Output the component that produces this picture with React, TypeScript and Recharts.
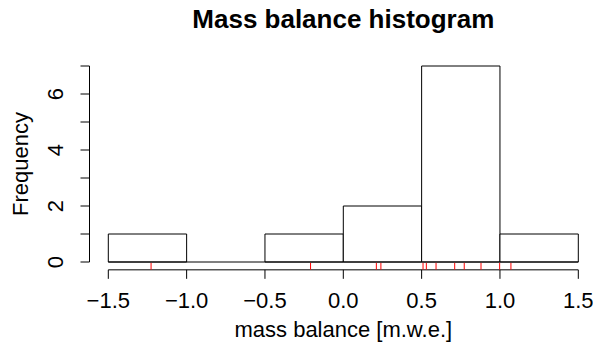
import React from 'react';
import { ComposedChart, XAxis, YAxis, ReferenceArea, ReferenceLine, Scatter } from 'recharts';

const binStarts = [-1.5, -1.0, -0.5, 0.0, 0.5, 1.0];
const binEnds = [-1.0, -0.5, 0.0, 0.5, 1.0, 1.5];
const binCounts = [1, 0, 1, 2, 7, 1];
const rugValues = [-1.227, -0.209, 0.211, 0.24, 0.509, 0.53, 0.592, 0.711, 0.772, 0.879, 0.998, 1.07];
const xTicks = [-1.5, -1.0, -0.5, 0.0, 0.5, 1.0, 1.5];
const yTicks = [0, 1, 2, 3, 4, 5, 6, 7];
const yTickLabels = ['0', '', '2', '', '4', '', '6', ''];
const titleText = 'Mass balance histogram';
const xLabelText = 'mass balance [m.w.e.]';
const yLabelText = 'Frequency';

const FONT = '"Liberation Sans", Arial, Helvetica, sans-serif';
const Y_MIN = -0.28;
const Y_MAX = 7.28;
const X_AXIS_LEFT = -1.62;

const rugData = rugValues.map((v) => ({ x: v, y: Y_MIN }));

const fmtX = (v: number) => (v < 0 ? '\u2212' : '') + Math.abs(v).toFixed(1);

const XTick = (props: any) => {
  const { x, y, payload } = props;
  return (
    <text x={x} y={y + 27} textAnchor="middle" fontSize={22} fontFamily={FONT} fill="#000">
      {fmtX(payload.value)}
    </text>
  );
};

const YTick = (props: any) => {
  const { x, y, payload } = props;
  const idx = yTicks.indexOf(payload.value);
  const label = idx >= 0 ? yTickLabels[idx] : '';
  if (!label) return <g />;
  return (
    <text
      x={x}
      y={y}
      transform={`rotate(-90, ${x}, ${y})`}
      textAnchor="middle"
      fontSize={22}
      fontFamily={FONT}
      fill="#000"
    >
      {label}
    </text>
  );
};

const RugShape = (props: any) => {
  const { cx, cy } = props;
  return <line x1={cx} x2={cx} y1={cy} y2={cy - 7} stroke="#ff0000" strokeWidth={1} />;
};

const Texts = () => (
  <g>
    <text x={343.3} y={28.3} textAnchor="middle" fontSize={26} fontWeight="bold" fontFamily={FONT} fill="#000">
      {titleText}
    </text>
    <text x={343.3} y={337} textAnchor="middle" fontSize={22} fontFamily={FONT} fill="#000">
      {xLabelText}
    </text>
    <text
      x={28}
      y={164}
      transform="rotate(-90, 28, 164)"
      textAnchor="middle"
      fontSize={22}
      fontFamily={FONT}
      fill="#000"
    >
      {yLabelText}
    </text>
  </g>
);

export default function App() {
  return (
    <div style={{ position: 'absolute', left: 0, top: 0, width: 593, height: 348, background: '#fff' }}>
      <ComposedChart
        width={593}
        height={348}
        margin={{ top: 58.16, right: 0, bottom: 38.16, left: 0.5 }}
      >
        <XAxis
          type="number"
          dataKey="x"
          domain={[-1.5, 1.5]}
          ticks={xTicks}
          allowDataOverflow
          padding={{ left: 18.8, right: 14.7 }}
          axisLine={false}
          tickLine={{ stroke: '#000', strokeWidth: 1 }}
          tickSize={9}
          tickMargin={2}
          tick={<XTick />}
          height={40}
          interval={0}
          label={{ content: () => <Texts /> }}
        />
        <YAxis
          type="number"
          dataKey="y"
          domain={[Y_MIN, Y_MAX]}
          ticks={yTicks}
          allowDataOverflow
          axisLine={false}
          tickLine={{ stroke: '#000', strokeWidth: 1 }}
          tickSize={9}
          tickMargin={17.5}
          tick={<YTick />}
          width={89}
          interval={0}
        />
        {binStarts.map((s, i) =>
          binCounts[i] > 0 ? (
            <ReferenceArea
              key={`bin-${i}`}
              x1={s}
              x2={binEnds[i]}
              y1={0}
              y2={binCounts[i]}
              fill="#fff"
              fillOpacity={1}
              stroke="#000"
              strokeWidth={1}
              ifOverflow="visible"
            />
          ) : null
        )}
        <ReferenceLine
          segment={[
            { x: binStarts[0], y: 0 },
            { x: binEnds[binEnds.length - 1], y: 0 },
          ]}
          stroke="#000"
          strokeWidth={1}
          ifOverflow="visible"
        />
        <ReferenceLine
          segment={[
            { x: xTicks[0], y: Y_MIN },
            { x: xTicks[xTicks.length - 1], y: Y_MIN },
          ]}
          stroke="#000"
          strokeWidth={1}
          ifOverflow="visible"
        />
        <ReferenceLine
          segment={[
            { x: X_AXIS_LEFT, y: yTicks[0] },
            { x: X_AXIS_LEFT, y: yTicks[yTicks.length - 1] },
          ]}
          stroke="#000"
          strokeWidth={1}
          ifOverflow="visible"
        />
        <Scatter data={rugData} shape={<RugShape />} isAnimationActive={false} />
      </ComposedChart>
    </div>
  );
}
